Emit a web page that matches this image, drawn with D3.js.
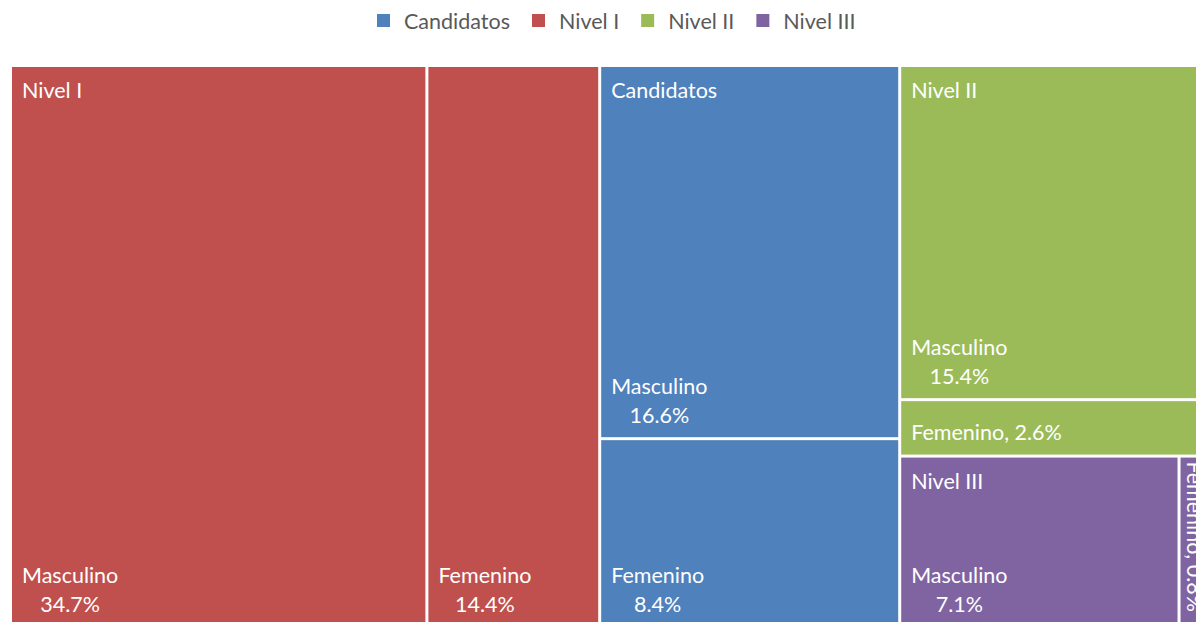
<!DOCTYPE html>
<html>
<head>
<meta charset="utf-8">
<script src="https://cdn.jsdelivr.net/npm/d3@7"></script>
<style>
  body { margin: 0; background: #fff; }
  svg { display: block; font-family: Lato, "Open Sans", sans-serif; }
  .tile-label { fill: #fff; font-size: 21.5px; }
  .legend text { fill: #595959; font-size: 21.5px; }
</style>
</head>
<body>
<div id="chart"></div>
<script>
// grupos (orden de la leyenda) y sus valores por sexo, en %
var groups = ["Candidatos", "Nivel I", "Nivel II", "Nivel III"];
var colors = ["#4F81BD", "#C0504D", "#9BBB59", "#8064A2"];
var sexes = ["Masculino", "Femenino"];
var masculino = [16.6, 34.7, 15.4, 7.1];
var femenino = [8.4, 14.4, 2.6, 0.8];

var width = 1196, height = 622;
var margin = {top: 67, left: 12};
// el treemap se sale un poco del recuadro (queda recortado a la derecha y abajo)
var mapW = 1197, mapH = 559;

var svg = d3.select("#chart").append("svg")
  .attr("width", width)
  .attr("height", height);

var color = d3.scaleOrdinal()
  .domain(groups)
  .range(colors);

var data = {
  name: "root",
  children: groups.map(function(g, i) {
    return {
      name: g,
      children: [
        {name: sexes[0], value: masculino[i]},
        {name: sexes[1], value: femenino[i]}
      ]
    };
  })
};

var root = d3.hierarchy(data)
  .sum(function(d) { return d.value || 0; })
  .sort(function(a, b) { return b.value - a.value; });

d3.treemap()
  .tile(d3.treemapSquarify.ratio(1))
  .size([mapW, mapH])
  .paddingInner(3)
  (root);

var g = svg.append("g")
  .attr("transform", "translate(" + margin.left + "," + margin.top + ")");

var leaves = g.selectAll(".leaf")
  .data(root.leaves())
  .enter().append("g")
  .attr("class", "leaf");

leaves.append("rect")
  .attr("x", function(d) { return d.x0; })
  .attr("y", function(d) { return d.y0; })
  .attr("width", function(d) { return d.x1 - d.x0; })
  .attr("height", function(d) { return d.y1 - d.y0; })
  .attr("fill", function(d) { return color(d.parent.data.name); });

var fmt = function(v) { return v.toFixed(1) + "%"; };

leaves.each(function(d) {
  var sel = d3.select(this);
  var w = d.x1 - d.x0, h = d.y1 - d.y0;
  if (w < 40) {
    // tile muy angosta: etiqueta girada (queda recortada como en el original)
    sel.append("text")
      .attr("class", "tile-label")
      .attr("transform", "translate(" + (d.x0 + w / 2 - 8) + "," + (d.y1 - 14) + ") rotate(90)")
      .attr("text-anchor", "end")
      .text(d.data.name + ", " + fmt(d.value));
  } else if (h < 70) {
    sel.append("text")
      .attr("class", "tile-label")
      .attr("x", d.x0 + 10)
      .attr("y", d.y1 - 15)
      .text(d.data.name + ", " + fmt(d.value));
  } else {
    var t1 = sel.append("text")
      .attr("class", "tile-label")
      .attr("x", d.x0 + 10)
      .attr("y", d.y1 - 43)
      .text(d.data.name);
    var w1 = t1.node().getComputedTextLength();
    sel.append("text")
      .attr("class", "tile-label")
      .attr("x", d.x0 + 10 + w1 / 2)
      .attr("y", d.y1 - 14)
      .attr("text-anchor", "middle")
      .text(fmt(d.value));
  }
});

// etiquetas de grupo arriba a la izquierda
g.selectAll(".group-label")
  .data(root.children)
  .enter().append("text")
  .attr("class", "tile-label group-label")
  .attr("x", function(d) { return d.x0 + 10; })
  .attr("y", function(d) { return d.y0 + 31; })
  .text(function(d) { return d.data.name; });

// leyenda
var legend = svg.append("g").attr("class", "legend");
var xPos = 0;
groups.forEach(function(name, i) {
  var item = legend.append("g").attr("transform", "translate(" + xPos + ",0)");
  item.append("rect")
    .attr("x", 0).attr("y", 14)
    .attr("width", 13).attr("height", 13)
    .attr("fill", color(name));
  var t = item.append("text")
    .attr("x", 27).attr("y", 29)
    .text(name);
  xPos += 27 + t.node().getComputedTextLength() + 22;
});
var legendW = xPos - 22;
legend.attr("transform", "translate(" + Math.round(616 - legendW / 2) + ",0)");
</script>
</body>
</html>
